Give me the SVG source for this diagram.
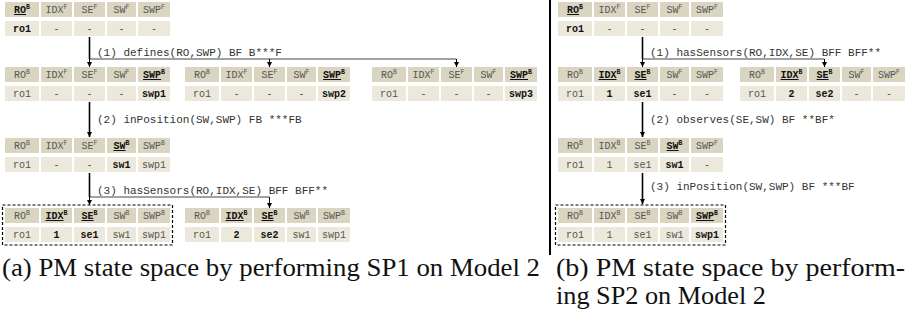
<svg xmlns="http://www.w3.org/2000/svg" xmlns:xlink="http://www.w3.org/1999/xlink" width="907" height="320" viewBox="0 0 907 320">
<style>
.hc{fill:#d9d5c0}
.dc{fill:#ece9dc}
text.c{font-family:"Liberation Mono","DejaVu Sans Mono",monospace;font-size:10px;fill:#555;text-anchor:middle}
text.k{font-weight:bold;fill:#111}
.sp{font-size:6.5px}
.ul{text-decoration:underline}
.lbl{font-family:"Liberation Mono","DejaVu Sans Mono",monospace;font-size:11px;fill:#333}
.cap{font-family:"Liberation Serif","DejaVu Serif",serif;font-size:26px;fill:#111}
.trunk{stroke:#000;stroke-width:1.6;fill:none}
.bar{stroke:#444;stroke-width:1;fill:none}
.drop{stroke:#000;stroke-width:1;fill:none;marker-end:url(#ah)}
.box{fill:none;stroke:#000;stroke-width:1.2;stroke-dasharray:3 2}
</style>
<defs>
<marker id="ah" viewBox="0 0 6 6" refX="6" refY="3" markerWidth="5" markerHeight="5" markerUnits="userSpaceOnUse" orient="auto"><path d="M0,0L6,3L0,6z" fill="#000"/></marker>
<g id="tf">
<rect class="hc" x="0" y="0" width="34" height="15"/><rect class="hc" x="36" y="0" width="31" height="15"/><rect class="hc" x="69" y="0" width="31" height="15"/><rect class="hc" x="102" y="0" width="29" height="15"/><rect class="hc" x="133" y="0" width="32" height="15"/>
<rect class="dc" x="0" y="19" width="34" height="15"/><rect class="dc" x="36" y="19" width="31" height="15"/><rect class="dc" x="69" y="19" width="31" height="15"/><rect class="dc" x="102" y="19" width="29" height="15"/><rect class="dc" x="133" y="19" width="32" height="15"/>
</g>
</defs>

<line x1="550" y1="0" x2="550" y2="255" stroke="#000" stroke-width="2"/>

<g id="connectors">
<path class="trunk" d="M89.5,37V59"/>
<path class="bar" d="M89.5,59H456.5"/>
<path class="drop" d="M89.5,59V67"/><path class="drop" d="M269.5,59V67"/><path class="drop" d="M456.5,59V67"/>
<text class="lbl" x="97" y="56">(1) defines(RO,SWP) BF B***F</text>
<path class="trunk" d="M89.5,102V137" marker-end="url(#ah)"/>
<text class="lbl" x="97" y="123">(2) inPosition(SW,SWP) FB ***FB</text>
<path class="trunk" d="M89.5,173V197"/>
<path class="bar" d="M89.5,197H269.5"/>
<path class="drop" d="M89.5,197V205"/><path class="drop" d="M269.5,197V208"/>
<text class="lbl" x="97" y="194">(3) hasSensors(RO,IDX,SE) BFF BFF**</text>

<path class="trunk" d="M642.5,37V59"/>
<path class="bar" d="M642.5,59H824.5"/>
<path class="drop" d="M642.5,59V67"/><path class="drop" d="M824.5,59V67"/>
<text class="lbl" x="650" y="56">(1) hasSensors(RO,IDX,SE) BFF BFF**</text>
<path class="trunk" d="M642.5,102V137" marker-end="url(#ah)"/>
<text class="lbl" x="650" y="123">(2) observes(SE,SW) BF **BF*</text>
<path class="trunk" d="M642.5,173V204" marker-end="url(#ah)"/>
<text class="lbl" x="650" y="190">(3) inPosition(SW,SWP) BF ***BF</text>
</g>

<!-- LEFT PANEL -->
<g id="a-s0" transform="translate(5,2)">
<use xlink:href="#tf"/>
<text class="c k" x="17" y="11"><tspan class="ul">RO</tspan><tspan class="sp" dy="-4">B</tspan></text>
<text class="c" x="51.5" y="11">IDX<tspan class="sp" dy="-4">F</tspan></text>
<text class="c" x="84.5" y="11">SE<tspan class="sp" dy="-4">F</tspan></text>
<text class="c" x="116.5" y="11">SW<tspan class="sp" dy="-4">F</tspan></text>
<text class="c" x="149" y="11">SWP<tspan class="sp" dy="-4">F</tspan></text>
<text class="c k" x="17" y="30">ro1</text><text class="c" x="51.5" y="30">-</text><text class="c" x="84.5" y="30">-</text><text class="c" x="116.5" y="30">-</text><text class="c" x="149" y="30">-</text>
</g>

<g id="a-s1" transform="translate(5,67)">
<use xlink:href="#tf"/>
<text class="c" x="17" y="11">RO<tspan class="sp" dy="-4">B</tspan></text>
<text class="c" x="51.5" y="11">IDX<tspan class="sp" dy="-4">F</tspan></text>
<text class="c" x="84.5" y="11">SE<tspan class="sp" dy="-4">F</tspan></text>
<text class="c" x="116.5" y="11">SW<tspan class="sp" dy="-4">F</tspan></text>
<text class="c k" x="149" y="11"><tspan class="ul">SWP</tspan><tspan class="sp" dy="-4">B</tspan></text>
<text class="c" x="17" y="30">ro1</text><text class="c" x="51.5" y="30">-</text><text class="c" x="84.5" y="30">-</text><text class="c" x="116.5" y="30">-</text><text class="c k" x="149" y="30">swp1</text>
</g>

<g id="a-s2" transform="translate(185,67)">
<use xlink:href="#tf"/>
<text class="c" x="17" y="11">RO<tspan class="sp" dy="-4">B</tspan></text>
<text class="c" x="51.5" y="11">IDX<tspan class="sp" dy="-4">F</tspan></text>
<text class="c" x="84.5" y="11">SE<tspan class="sp" dy="-4">F</tspan></text>
<text class="c" x="116.5" y="11">SW<tspan class="sp" dy="-4">F</tspan></text>
<text class="c k" x="149" y="11"><tspan class="ul">SWP</tspan><tspan class="sp" dy="-4">B</tspan></text>
<text class="c" x="17" y="30">ro1</text><text class="c" x="51.5" y="30">-</text><text class="c" x="84.5" y="30">-</text><text class="c" x="116.5" y="30">-</text><text class="c k" x="149" y="30">swp2</text>
</g>

<g id="a-s3" transform="translate(372,67)">
<use xlink:href="#tf"/>
<text class="c" x="17" y="11">RO<tspan class="sp" dy="-4">B</tspan></text>
<text class="c" x="51.5" y="11">IDX<tspan class="sp" dy="-4">F</tspan></text>
<text class="c" x="84.5" y="11">SE<tspan class="sp" dy="-4">F</tspan></text>
<text class="c" x="116.5" y="11">SW<tspan class="sp" dy="-4">F</tspan></text>
<text class="c k" x="149" y="11"><tspan class="ul">SWP</tspan><tspan class="sp" dy="-4">B</tspan></text>
<text class="c" x="17" y="30">ro1</text><text class="c" x="51.5" y="30">-</text><text class="c" x="84.5" y="30">-</text><text class="c" x="116.5" y="30">-</text><text class="c k" x="149" y="30">swp3</text>
</g>

<g id="a-s4" transform="translate(5,138)">
<use xlink:href="#tf"/>
<text class="c" x="17" y="11">RO<tspan class="sp" dy="-4">B</tspan></text>
<text class="c" x="51.5" y="11">IDX<tspan class="sp" dy="-4">F</tspan></text>
<text class="c" x="84.5" y="11">SE<tspan class="sp" dy="-4">F</tspan></text>
<text class="c k" x="116.5" y="11"><tspan class="ul">SW</tspan><tspan class="sp" dy="-4">B</tspan></text>
<text class="c" x="149" y="11">SWP<tspan class="sp" dy="-4">B</tspan></text>
<text class="c" x="17" y="30">ro1</text><text class="c" x="51.5" y="30">-</text><text class="c" x="84.5" y="30">-</text><text class="c k" x="116.5" y="30">sw1</text><text class="c" x="149" y="30">swp1</text>
</g>

<g id="a-s5" transform="translate(5,208)">
<rect class="box" x="-2.5" y="-3" width="170" height="40"/>
<use xlink:href="#tf"/>
<text class="c" x="17" y="11">RO<tspan class="sp" dy="-4">B</tspan></text>
<text class="c k" x="51.5" y="11"><tspan class="ul">IDX</tspan><tspan class="sp" dy="-4">B</tspan></text>
<text class="c k" x="84.5" y="11"><tspan class="ul">SE</tspan><tspan class="sp" dy="-4">B</tspan></text>
<text class="c" x="116.5" y="11">SW<tspan class="sp" dy="-4">B</tspan></text>
<text class="c" x="149" y="11">SWP<tspan class="sp" dy="-4">B</tspan></text>
<text class="c" x="17" y="30">ro1</text><text class="c k" x="51.5" y="30">1</text><text class="c k" x="84.5" y="30">se1</text><text class="c" x="116.5" y="30">sw1</text><text class="c" x="149" y="30">swp1</text>
</g>

<g id="a-s6" transform="translate(185,208)">
<use xlink:href="#tf"/>
<text class="c" x="17" y="11">RO<tspan class="sp" dy="-4">B</tspan></text>
<text class="c k" x="51.5" y="11"><tspan class="ul">IDX</tspan><tspan class="sp" dy="-4">B</tspan></text>
<text class="c k" x="84.5" y="11"><tspan class="ul">SE</tspan><tspan class="sp" dy="-4">B</tspan></text>
<text class="c" x="116.5" y="11">SW<tspan class="sp" dy="-4">B</tspan></text>
<text class="c" x="149" y="11">SWP<tspan class="sp" dy="-4">B</tspan></text>
<text class="c" x="17" y="30">ro1</text><text class="c k" x="51.5" y="30">2</text><text class="c k" x="84.5" y="30">se2</text><text class="c" x="116.5" y="30">sw1</text><text class="c" x="149" y="30">swp1</text>
</g>

<!-- RIGHT PANEL -->
<g id="b-s0" transform="translate(558,2)">
<use xlink:href="#tf"/>
<text class="c k" x="17" y="11"><tspan class="ul">RO</tspan><tspan class="sp" dy="-4">B</tspan></text>
<text class="c" x="51.5" y="11">IDX<tspan class="sp" dy="-4">F</tspan></text>
<text class="c" x="84.5" y="11">SE<tspan class="sp" dy="-4">F</tspan></text>
<text class="c" x="116.5" y="11">SW<tspan class="sp" dy="-4">F</tspan></text>
<text class="c" x="149" y="11">SWP<tspan class="sp" dy="-4">F</tspan></text>
<text class="c k" x="17" y="30">ro1</text><text class="c" x="51.5" y="30">-</text><text class="c" x="84.5" y="30">-</text><text class="c" x="116.5" y="30">-</text><text class="c" x="149" y="30">-</text>
</g>

<g id="b-s1" transform="translate(558,67)">
<use xlink:href="#tf"/>
<text class="c" x="17" y="11">RO<tspan class="sp" dy="-4">B</tspan></text>
<text class="c k" x="51.5" y="11"><tspan class="ul">IDX</tspan><tspan class="sp" dy="-4">B</tspan></text>
<text class="c k" x="84.5" y="11"><tspan class="ul">SE</tspan><tspan class="sp" dy="-4">B</tspan></text>
<text class="c" x="116.5" y="11">SW<tspan class="sp" dy="-4">F</tspan></text>
<text class="c" x="149" y="11">SWP<tspan class="sp" dy="-4">F</tspan></text>
<text class="c" x="17" y="30">ro1</text><text class="c k" x="51.5" y="30">1</text><text class="c k" x="84.5" y="30">se1</text><text class="c" x="116.5" y="30">-</text><text class="c" x="149" y="30">-</text>
</g>

<g id="b-s2" transform="translate(740,67)">
<use xlink:href="#tf"/>
<text class="c" x="17" y="11">RO<tspan class="sp" dy="-4">B</tspan></text>
<text class="c k" x="51.5" y="11"><tspan class="ul">IDX</tspan><tspan class="sp" dy="-4">B</tspan></text>
<text class="c k" x="84.5" y="11"><tspan class="ul">SE</tspan><tspan class="sp" dy="-4">B</tspan></text>
<text class="c" x="116.5" y="11">SW<tspan class="sp" dy="-4">F</tspan></text>
<text class="c" x="149" y="11">SWP<tspan class="sp" dy="-4">F</tspan></text>
<text class="c" x="17" y="30">ro1</text><text class="c k" x="51.5" y="30">2</text><text class="c k" x="84.5" y="30">se2</text><text class="c" x="116.5" y="30">-</text><text class="c" x="149" y="30">-</text>
</g>

<g id="b-s3" transform="translate(558,138)">
<use xlink:href="#tf"/>
<text class="c" x="17" y="11">RO<tspan class="sp" dy="-4">B</tspan></text>
<text class="c" x="51.5" y="11">IDX<tspan class="sp" dy="-4">B</tspan></text>
<text class="c" x="84.5" y="11">SE<tspan class="sp" dy="-4">B</tspan></text>
<text class="c k" x="116.5" y="11"><tspan class="ul">SW</tspan><tspan class="sp" dy="-4">B</tspan></text>
<text class="c" x="149" y="11">SWP<tspan class="sp" dy="-4">F</tspan></text>
<text class="c" x="17" y="30">ro1</text><text class="c" x="51.5" y="30">1</text><text class="c" x="84.5" y="30">se1</text><text class="c k" x="116.5" y="30">sw1</text><text class="c" x="149" y="30">-</text>
</g>

<g id="b-s4" transform="translate(558,208)">
<rect class="box" x="-2.5" y="-3" width="170" height="40"/>
<use xlink:href="#tf"/>
<text class="c" x="17" y="11">RO<tspan class="sp" dy="-4">B</tspan></text>
<text class="c" x="51.5" y="11">IDX<tspan class="sp" dy="-4">B</tspan></text>
<text class="c" x="84.5" y="11">SE<tspan class="sp" dy="-4">B</tspan></text>
<text class="c" x="116.5" y="11">SW<tspan class="sp" dy="-4">B</tspan></text>
<text class="c k" x="149" y="11"><tspan class="ul">SWP</tspan><tspan class="sp" dy="-4">B</tspan></text>
<text class="c" x="17" y="30">ro1</text><text class="c" x="51.5" y="30">1</text><text class="c" x="84.5" y="30">se1</text><text class="c" x="116.5" y="30">sw1</text><text class="c k" x="149" y="30">swp1</text>
</g>

<g id="captions">
<text class="cap" x="2" y="276" textLength="538" lengthAdjust="spacingAndGlyphs">(a) PM state space by performing SP1 on Model 2</text>
<text class="cap" x="556" y="276" textLength="349" lengthAdjust="spacingAndGlyphs">(b) PM state space by perform-</text>
<text class="cap" x="556" y="304" textLength="210" lengthAdjust="spacingAndGlyphs">ing SP2 on Model 2</text>
</g>
</svg>
